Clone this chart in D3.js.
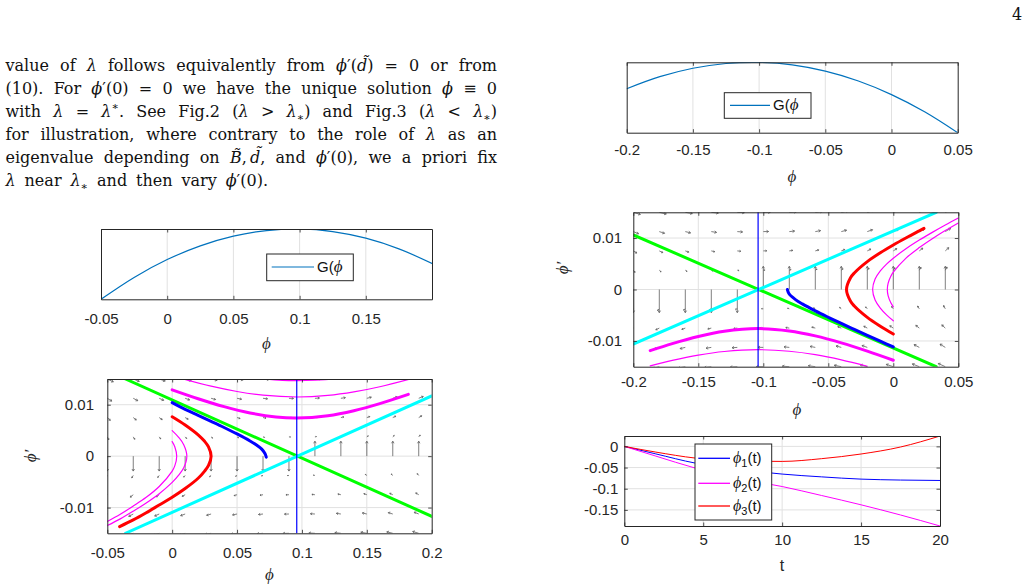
<!DOCTYPE html>
<html>
<head>
<meta charset="utf-8">
<script src="https://cdn.jsdelivr.net/npm/d3@7"></script>
<style>
body { margin: 0; background: #fff; }
svg { display: block; background: #fff; }
</style>
</head>
<body>
<script>
// ---------- text ----------
var pageNumber = '4';
var paragraph = [
    'value of <i>λ</i> follows equivalently from <i>ϕ</i>′(<i>d̃</i>) = 0 or from',
    '(10). For <i>ϕ</i>′(0) = 0 we have the unique solution <i>ϕ</i> ≡ 0',
    'with <i>λ</i> = <i>λ</i><sup>∗</sup>. See Fig.2 (<i>λ</i> > <i>λ</i><sub>∗</sub>) and Fig.3 (<i>λ</i> < <i>λ</i><sub>∗</sub>)',
    'for illustration, where contrary to the role of <i>λ</i> as an',
    'eigenvalue depending on <i>B̃</i>,\u2009<i>d̃</i>, and <i>ϕ</i>′(0), we a priori fix',
    '<i>λ</i> near <i>λ</i><sub>∗</sub> and then vary <i>ϕ</i>′(0).'
];

// ---------- G(phi) curves (normalised height) ----------
var gLeftPhi = [-0.05, -0.025, 0, 0.025, 0.05, 0.075, 0.1, 0.125, 0.15, 0.175, 0.2];
var gLeftVal = [0, 0.311, 0.565, 0.76, 0.898, 0.978, 1.0, 0.964, 0.87, 0.718, 0.509];
var gLeftTicks = [-0.05, 0, 0.05, 0.1, 0.15];
var gLeftTickLabels = ['-0.05', '0', '0.05', '0.1', '0.15'];

var gRightPhi = [-0.2, -0.175, -0.15, -0.125, -0.1, -0.075, -0.05, -0.025, 0, 0.025, 0.05];
var gRightVal = [0.625, 0.796, 0.916, 0.983, 0.999, 0.963, 0.874, 0.734, 0.541, 0.297, 0];
var gRightTicks = [-0.2, -0.15, -0.1, -0.05, 0, 0.05];
var gRightTickLabels = ['-0.2', '-0.15', '-0.1', '-0.05', '0', '0.05'];

// ---------- phase planes ----------
var phaseYTicks = [-0.01, 0, 0.01];
var phaseYTickLabels = ['-0.01', '0', '0.01'];
var leftPhaseTicks = [-0.05, 0, 0.05, 0.1, 0.15, 0.2];
var leftPhaseTickLabels = ['-0.05', '0', '0.05', '0.1', '0.15', '0.2'];

var quiverRows = [-0.015, -0.01125, -0.0075, -0.00375, 0, 0.00375, 0.0075, 0.01125, 0.015];
var leftQuiverCols = [-0.05, -0.03, -0.01, 0.01, 0.03, 0.05, 0.07, 0.09, 0.11, 0.13, 0.15, 0.17, 0.19];
var rightQuiverCols = [-0.2, -0.18, -0.16, -0.14, -0.12, -0.1, -0.08, -0.06, -0.04, -0.02, 0, 0.02, 0.04];

var leftSaddle = 0.096;
var leftGreen = [[-0.036, 0.015], [0.2, -0.0117]];
var leftCyan = [[-0.036, -0.015], [0.2, 0.0117]];
var leftMagThick = [[0, 0.0129], [0.02, 0.01117], [0.04, 0.00963], [0.06, 0.0084], [0.08, 0.00761], [0.096, 0.0074],
    [0.12, 0.00786], [0.14, 0.00884], [0.16, 0.01022], [0.182, 0.01201]];
var leftMagMid = [[0.009, 0.01497], [0.03, 0.0136], [0.05, 0.01257], [0.07, 0.01185], [0.096, 0.0115], [0.12, 0.0118],
    [0.14, 0.01248], [0.16, 0.01349], [0.183, 0.01497]];
var leftMagTop = [[0.05, 0.0155], [0.07, 0.01502], [0.085, 0.01475], [0.096, 0.0147], [0.11, 0.01478], [0.125, 0.01503], [0.14, 0.0155]];
var leftRed = [[0, 0.00767], [0.01, 0.00607], [0.02, 0.00415], [0.025, 0.00288], [0.028, 0.0018], [0.03, 0],
    [0.028, -0.0018], [0.025, -0.0029], [0.02, -0.0043], [0.01, -0.0063], [0, -0.008], [-0.01, -0.0095],
    [-0.02, -0.011], [-0.03, -0.0124], [-0.0405, -0.0137]];
var leftMagOuter = [[0, 0.00497], [0.005, 0.00366], [0.009, 0.00219], [0.0113, 0], [0.009, -0.0022], [0.005, -0.0037],
    [0, -0.0051], [-0.01, -0.0073], [-0.02, -0.0091], [-0.03, -0.0107], [-0.04, -0.0122], [-0.05, -0.0135]];
var leftMagInner = [[0, 0.00283], [0.002, 0.00184], [0.0035, 0], [0.002, -0.0019], [0, -0.0029], [-0.01, -0.0059],
    [-0.02, -0.008], [-0.03, -0.0097], [-0.04, -0.0113], [-0.05, -0.0127]];
var leftBlue = [[0, 0.0104], [0.01, 0.00908], [0.02, 0.00793], [0.03, 0.00676], [0.04, 0.00557], [0.05, 0.00432],
    [0.06, 0.00295], [0.065, 0.00216], [0.069, 0.00136], [0.0715, 0.0005], [0.0725, -0.0002]];

var rightSaddle = -0.104;
var rightGreen = [[-0.2, 0.0106], [0.033, -0.015]];
var rightCyan = [[-0.2, -0.0106], [0.033, 0.015]];
var rightMagThick = [[-0.187, -0.01188], [-0.17, -0.01051], [-0.15, -0.00913], [-0.13, -0.00812], [-0.104, -0.0076],
    [-0.08, -0.00805], [-0.06, -0.00901], [-0.04, -0.01036], [-0.02, -0.01197], [0, -0.01374]];
var rightMagLow = [[-0.187, -0.01484], [-0.17, -0.01377], [-0.15, -0.01275], [-0.13, -0.01205], [-0.104, -0.0117],
    [-0.08, -0.012], [-0.06, -0.01266], [-0.04, -0.01366], [-0.02, -0.01491]];
var rightRed = [[0, -0.00866], [-0.01, -0.00714], [-0.02, -0.00542], [-0.03, -0.00321], [-0.033, -0.00225], [-0.036, 0],
    [-0.033, 0.00225], [-0.03, 0.00321], [-0.02, 0.00542], [-0.01, 0.00714], [0, 0.00866], [0.01, 0.01006],
    [0.02, 0.0114], [0.0236, 0.01188]];
var rightMagOuter = [[0, -0.00608], [-0.005, -0.00497], [-0.01, -0.0036], [-0.014, -0.00202], [-0.0159, 0],
    [-0.014, 0.00202], [-0.01, 0.0036], [-0.005, 0.00497], [0, 0.00608], [0.01, 0.00796], [0.02, 0.0096],
    [0.03, 0.0111], [0.04, 0.01253], [0.05, 0.01389]];
var rightMagInner = [[0, -0.00336], [-0.002, -0.00252], [-0.004, -0.0012], [-0.0046, 0], [-0.004, 0.0012],
    [-0.002, 0.00252], [0, 0.00336], [0.01, 0.00614], [0.02, 0.00815], [0.03, 0.00988], [0.04, 0.01146], [0.05, 0.01294]];
var rightBlue = [[-0.0815, 0], [-0.08, -0.00092], [-0.075, -0.00201], [-0.07, -0.0028], [-0.06, -0.00416],
    [-0.05, -0.0054], [-0.04, -0.00659], [-0.03, -0.00775], [-0.02, -0.0089], [-0.01, -0.01004], [0, -0.01117]];

// ---------- phi_i(t) ----------
var tVals = [0, 2, 4.5, 7, 10, 12.5, 15, 17.5, 20];
var phi1 = [0, -0.0178, -0.0395, -0.053, -0.0654, -0.072, -0.0773, -0.0795, -0.0805];
var phi2 = [0, -0.023, -0.0513, -0.074, -0.0948, -0.116, -0.138, -0.162, -0.188];
var phi3 = [0, -0.0135, -0.0276, -0.034, -0.0355, -0.029, -0.018, -0.0015, 0.0245];
var tTicks = [0, 5, 10, 15, 20];
var tTickLabels = ['0', '5', '10', '15', '20'];
var tYTicks = [-0.15, -0.1, -0.05, 0];
var tYTickLabels = ['-0.15', '-0.1', '-0.05', '0'];
var tSeries = ['ϕ1', 'ϕ2', 'ϕ3'];
var tColors = ['#0000ff', '#ff00ff', '#ff0000'];

// ---------- setup ----------
var axisColor = '#262626', gridColor = '#e1e1e1', quiverColor = '#5e5e5e', gColor = '#0072bd';
var sans = '"Liberation Sans", Arial, Helvetica, sans-serif';
var serif = '"Liberation Serif", "Times New Roman", "DejaVu Serif", serif';
var bookSerif = '"DejaVu Serif", "Liberation Serif", serif';

var svg = d3.select('body').append('svg')
    .attr('width', 1029)
    .attr('height', 584);

svg.append('text')
    .attr('x', 1012).attr('y', 20)
    .attr('font-family', bookSerif).attr('font-size', 16).attr('fill', '#111')
    .text(pageNumber);

// justified paragraph, word by word
function renderLine(str, y, x0, x1) {
    var words = str.split(' ');
    var nodes = words.map(function (w) {
        var t = svg.append('text').attr('y', y)
            .attr('font-family', bookSerif).attr('font-size', 16).attr('fill', '#111');
        var parts = w.split(/(<i>.*?<\/i>|<sub>.*?<\/sub>|<sup>.*?<\/sup>)/).filter(function (s) { return s.length; });
        var shift = 0;
        parts.forEach(function (p) {
            var m = p.match(/^<(i|sub|sup)>(.*)<\/(i|sub|sup)>$/);
            var kind = m ? m[1] : 'r', txt = m ? m[2] : p;
            var target = kind === 'sub' ? 4 : kind === 'sup' ? -7 : 0;
            var ts = t.append('tspan').attr('dy', target - shift).text(txt);
            shift = target;
            if (kind === 'i') ts.attr('font-style', 'italic');
            if (kind === 'sub' || kind === 'sup') ts.attr('font-size', 11);
        });
        return t;
    });
    var widths = nodes.map(function (n) { return n.node().getComputedTextLength(); });
    var gap = (x1 - x0 - d3.sum(widths)) / (words.length - 1);
    var x = x0;
    nodes.forEach(function (n, i) { n.attr('x', x); x += widths[i] + gap; });
}
var lineEnds = [497, 497, 497, 497, 497, 268];
paragraph.forEach(function (s, i) { renderLine(s, 71 + i * 22.9, 5.5, lineEnds[i]); });

var clipCount = 0;
function panel(p) {
    var x = d3.scaleLinear().domain(p.xDomain).range([p.left, p.right]);
    var y = d3.scaleLinear().domain(p.yDomain).range([p.bottom, p.top]);
    var g = svg.append('g');
    var id = 'clip' + (clipCount++);
    svg.append('clipPath').attr('id', id).append('rect')
        .attr('x', p.left).attr('y', p.top)
        .attr('width', p.right - p.left).attr('height', p.bottom - p.top);

    g.append('g').selectAll('line').data(p.xTicks.filter(function (d) { return d > p.xDomain[0] && d < p.xDomain[1]; }))
        .enter().append('line')
        .attr('x1', function (d) { return x(d); }).attr('x2', function (d) { return x(d); })
        .attr('y1', p.top).attr('y2', p.bottom)
        .attr('stroke', gridColor).attr('stroke-width', 1);
    g.append('g').selectAll('line').data(p.yTicks)
        .enter().append('line')
        .attr('y1', function (d) { return y(d); }).attr('y2', function (d) { return y(d); })
        .attr('x1', p.left).attr('x2', p.right)
        .attr('stroke', gridColor).attr('stroke-width', 1);

    var plot = g.append('g').attr('clip-path', 'url(#' + id + ')');
    return { x: x, y: y, g: g, plot: plot, p: p };
}

function styleAxis(sel) {
    sel.attr('color', axisColor).attr('font-family', sans).attr('font-size', 15);
    sel.select('.domain').attr('stroke-width', 1);
    sel.selectAll('.tick line').attr('stroke-width', 0.8);
}

function frame(ax) {
    var p = ax.p, tk = 3.5;
    var b = ax.g.append('g').attr('transform', 'translate(0,' + p.bottom + ')')
        .call(d3.axisBottom(ax.x).tickValues(p.xTicks).tickSizeInner(-tk).tickSizeOuter(0)
            .tickPadding(p.xPad).tickFormat(function (d, i) { return p.xLabels[i]; }));
    styleAxis(b);
    var t = ax.g.append('g').attr('transform', 'translate(0,' + p.top + ')')
        .call(d3.axisTop(ax.x).tickValues(p.xTicks).tickSizeInner(-tk).tickSizeOuter(0).tickFormat(''));
    styleAxis(t);
    var l = ax.g.append('g').attr('transform', 'translate(' + p.left + ',0)')
        .call(d3.axisLeft(ax.y).tickValues(p.yTicks).tickSizeInner(-tk).tickSizeOuter(0)
            .tickPadding(p.yPad || 0).tickFormat(function (d, i) { return p.yLabels[i]; }));
    styleAxis(l);
    var r = ax.g.append('g').attr('transform', 'translate(' + p.right + ',0)')
        .call(d3.axisRight(ax.y).tickValues(p.yTicks).tickSizeInner(-tk).tickSizeOuter(0).tickFormat(''));
    styleAxis(r);

    if (p.xLabel) {
        ax.g.append('text').attr('x', p.xLabel[0]).attr('y', p.xLabel[1])
            .attr('text-anchor', 'middle').attr('dominant-baseline', 'central')
            .attr('font-family', p.xLabelSans ? sans : serif).attr('font-size', p.xLabelSans ? 16 : 17)
            .attr('font-style', p.xLabelSans ? null : 'italic').attr('fill', '#262626')
            .text(p.xLabelText);
    }
    if (p.yLabel) {
        ax.g.append('text')
            .attr('transform', 'translate(' + p.yLabel[0] + ',' + p.yLabel[1] + ') rotate(-90)')
            .attr('text-anchor', 'middle').attr('dominant-baseline', 'central')
            .attr('font-family', serif).attr('font-size', 17).attr('font-style', 'italic').attr('fill', '#262626')
            .text('ϕ′');
    }
}

function drawCurve(ax, pts, color, width) {
    var line = d3.line()
        .x(function (d) { return ax.x(d[0]); })
        .y(function (d) { return ax.y(d[1]); })
        .curve(d3.curveCatmullRom.alpha(0.5));
    ax.plot.append('path').datum(pts)
        .attr('d', line).attr('fill', 'none')
        .attr('stroke', color).attr('stroke-width', width)
        .attr('stroke-linecap', 'round').attr('stroke-linejoin', 'round');
}

// direction field of the saddle, quiver style
function quiver(ax, cols, rows, x0, s, zeroLen) {
    var c = 0.0121, arrows = [];
    cols.forEach(function (px) {
        rows.forEach(function (py) {
            var u, v;
            if (py === 0) { u = 0; v = (px > x0 ? 1 : -1) * zeroLen; }
            else { u = py * s; v = c * (px - x0) * s; }
            arrows.push({ x: px, y: py, u: u, v: v });
        });
    });
    ax.plot.append('g').selectAll('path').data(arrows).enter().append('path')
        .attr('d', function (d) {
            var x1 = ax.x(d.x), y1 = ax.y(d.y), x2 = ax.x(d.x + d.u), y2 = ax.y(d.y + d.v);
            var len = Math.hypot(x2 - x1, y2 - y1), a = Math.atan2(y2 - y1, x2 - x1);
            var hl = Math.min(2.4, 0.45 * len), da = 0.55;
            return 'M' + x1 + ',' + y1 + 'L' + x2 + ',' + y2 +
                'M' + (x2 - hl * Math.cos(a - da)) + ',' + (y2 - hl * Math.sin(a - da)) +
                'L' + x2 + ',' + y2 +
                'L' + (x2 - hl * Math.cos(a + da)) + ',' + (y2 - hl * Math.sin(a + da));
        })
        .attr('fill', 'none').attr('stroke', quiverColor).attr('stroke-width', 0.8);
}

function legendBox(ax, box, entries) {
    var lg = ax.g.append('g');
    lg.append('rect').attr('x', box[0]).attr('y', box[1])
        .attr('width', box[2] - box[0]).attr('height', box[3] - box[1])
        .attr('fill', '#fff').attr('stroke', axisColor).attr('stroke-width', 1);
    entries.forEach(function (e) {
        lg.append('line').attr('x1', e.x1).attr('x2', e.x2).attr('y1', e.y).attr('y2', e.y)
            .attr('stroke', e.color).attr('stroke-width', e.width);
        var t = lg.append('text').attr('x', e.x2 + 3).attr('y', e.y + 5)
            .attr('font-family', sans).attr('font-size', 15).attr('fill', '#111');
        e.label(t);
    });
}

// ---------- panel A: G(phi), left ----------
var axA = panel({
    left: 101, right: 432, top: 229, bottom: 299.3,
    xDomain: [-0.05, 0.2], yDomain: [0, 1],
    xTicks: gLeftTicks, xLabels: gLeftTickLabels, yTicks: [], yLabels: [],
    xPad: 14.4, xLabel: [266.5, 343], xLabelText: 'ϕ'
});
drawCurve(axA, gLeftPhi.map(function (v, i) { return [v, gLeftVal[i]]; }), gColor, 1.2);
frame(axA);
legendBox(axA, [266.7, 254, 353.3, 280.7], [{
    x1: 271.7, x2: 314, y: 267, color: gColor, width: 1.2,
    label: function (t) {
        t.append('tspan').text('G(');
        t.append('tspan').attr('font-family', serif).attr('font-style', 'italic').attr('font-size', 17).text('ϕ');
    }
}]);

// ---------- panel B: G(phi), right ----------
var axB = panel({
    left: 626.7, right: 957.7, top: 62.3, bottom: 132.7,
    xDomain: [-0.2, 0.05], yDomain: [0, 1],
    xTicks: gRightTicks, xLabels: gRightTickLabels, yTicks: [], yLabels: [],
    xPad: 12, xLabel: [792, 176.7], xLabelText: 'ϕ'
});
drawCurve(axB, gRightPhi.map(function (v, i) { return [v, gRightVal[i]]; }), gColor, 1.2);
frame(axB);
legendBox(axB, [724.3, 92.7, 811, 118.3], [{
    x1: 730, x2: 770, y: 105.3, color: gColor, width: 1.2,
    label: function (t) {
        t.append('tspan').text('G(');
        t.append('tspan').attr('font-family', serif).attr('font-style', 'italic').attr('font-size', 17).text('ϕ');
    }
}]);

// ---------- panel C: phase plane, left ----------
var axC = panel({
    left: 107.3, right: 431.7, top: 379, bottom: 533.3,
    xDomain: [-0.05, 0.2], yDomain: [-0.015, 0.015],
    xTicks: leftPhaseTicks, xLabels: leftPhaseTickLabels, yTicks: phaseYTicks, yLabels: phaseYTickLabels,
    xPad: 14.1, yPad: 13.3, xLabel: [269.5, 574.5], xLabelText: 'ϕ', yLabel: [30, 456]
});
quiver(axC, leftQuiverCols, quiverRows, leftSaddle, 0.31, 0.0029);
drawCurve(axC, leftGreen, '#00ff00', 3);
drawCurve(axC, leftCyan, '#00ffff', 3);
drawCurve(axC, leftMagTop, '#ff00ff', 1.2);
drawCurve(axC, leftMagMid, '#ff00ff', 1.2);
drawCurve(axC, leftMagThick, '#ff00ff', 3);
drawCurve(axC, leftMagInner, '#ff00ff', 1.2);
drawCurve(axC, leftMagOuter, '#ff00ff', 1.2);
drawCurve(axC, leftRed, '#ff0000', 3);
drawCurve(axC, leftBlue, '#0000ff', 3);
drawCurve(axC, [[leftSaddle, -0.015], [leftSaddle, 0.015]], '#0000ff', 1.2);
frame(axC);

// ---------- panel D: phase plane, right ----------
var axD = panel({
    left: 633.3, right: 958.3, top: 212.3, bottom: 366.7,
    xDomain: [-0.2, 0.05], yDomain: [-0.015, 0.015],
    xTicks: gRightTicks, xLabels: gRightTickLabels, yTicks: phaseYTicks, yLabels: phaseYTickLabels,
    xPad: 9.7, yPad: 11.3, xLabel: [797, 409], xLabelText: 'ϕ', yLabel: [562, 268]
});
quiver(axD, rightQuiverCols, quiverRows, rightSaddle, 0.36, 0.0045);
drawCurve(axD, rightGreen, '#00ff00', 3);
drawCurve(axD, rightCyan, '#00ffff', 3);
drawCurve(axD, rightMagLow, '#ff00ff', 1.2);
drawCurve(axD, rightMagThick, '#ff00ff', 3);
drawCurve(axD, rightMagOuter, '#ff00ff', 1.2);
drawCurve(axD, rightMagInner, '#ff00ff', 1.2);
drawCurve(axD, rightRed, '#ff0000', 3);
drawCurve(axD, rightBlue, '#0000ff', 3);
drawCurve(axD, [[rightSaddle, -0.015], [rightSaddle, 0.015]], '#0000ff', 1.2);
frame(axD);

// ---------- panel E: phi_i(t) ----------
var axE = panel({
    left: 624.3, right: 940, top: 436, bottom: 526,
    xDomain: [0, 20], yDomain: [-0.188, 0.0245],
    xTicks: tTicks, xLabels: tTickLabels, yTicks: tYTicks, yLabels: tYTickLabels,
    xPad: 8.7, yPad: 6, xLabel: [782, 565], xLabelText: 't', xLabelSans: true
});
[phi1, phi2, phi3].forEach(function (s, k) {
    var line = d3.line()
        .x(function (d, i) { return axE.x(tVals[i]); })
        .y(function (d) { return axE.y(d); })
        .curve(d3.curveMonotoneX);
    axE.plot.append('path').datum(s).attr('d', line)
        .attr('fill', 'none').attr('stroke', tColors[k]).attr('stroke-width', 1);
});
frame(axE);
legendBox(axE, [695, 444, 771.7, 520], [458.3, 483.3, 506].map(function (yy, k) {
    return {
        x1: 698.3, x2: 730, y: yy, color: tColors[k], width: 1.3,
        label: function (t) {
            t.append('tspan').attr('font-family', serif).attr('font-style', 'italic').attr('font-size', 16).text(tSeries[k][0]);
            t.append('tspan').attr('font-size', 11).attr('dy', 4).text(tSeries[k].slice(1));
            t.append('tspan').attr('dy', -4).text('(t)');
        }
    };
}));
</script>
</body>
</html>
